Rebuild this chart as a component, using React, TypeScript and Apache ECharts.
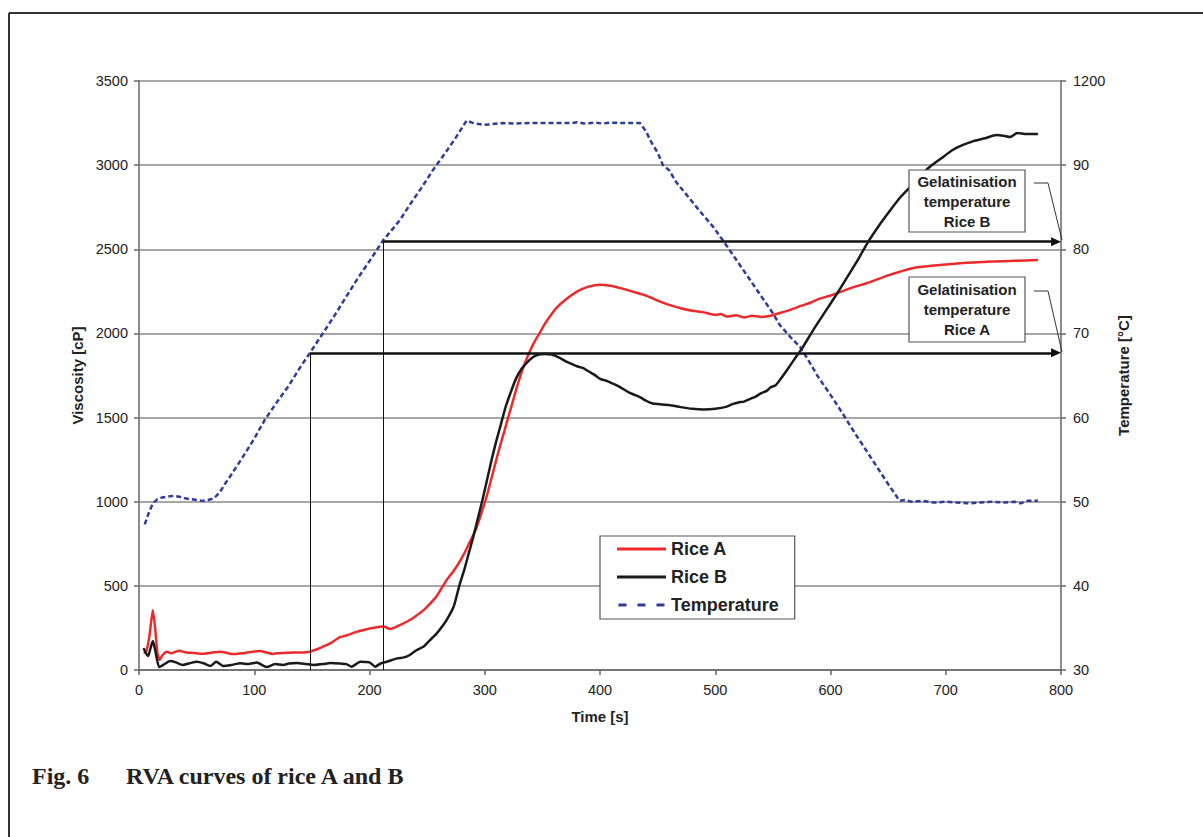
import React, { useEffect, useRef } from 'react';
import * as echarts from 'echarts';

// ---- data ----
const riceATime = [4,6,9,12,14,16,18,20,24,28,35,40,45,50,55,60,65,70,75,80,90,100,105,110,116,120,130,140,148,155,160,166,174,180,188,195,205,212,218,225,235,240,247,252,258,262,267,272,277,282,287,292,297,302,307,312,317,322,327,332,337,342,347,352,357,362,370,380,390,400,410,420,430,440,450,460,470,480,490,500,505,510,518,525,532,540,548,556,565,575,582,590,600,606,620,632,650,672,690,715,740,760,780];
const riceAVisc = [103,105,200,355,250,100,60,85,109,100,115,105,102,99,96,100,105,109,104,95,100,110,113,105,95,100,103,104,109,125,140,158,194,205,225,238,252,258,244,262,297,320,356,390,436,480,535,580,630,690,760,830,930,1040,1170,1300,1420,1540,1660,1770,1860,1935,1995,2055,2105,2150,2200,2248,2278,2290,2282,2265,2245,2225,2195,2170,2150,2135,2125,2110,2115,2100,2108,2095,2105,2098,2105,2121,2140,2165,2181,2205,2225,2240,2275,2300,2345,2389,2403,2418,2428,2432,2436];

const riceBTime = [4,6,8,10,12,14,17.5,21,27,32,38,44,50,56,62,67,73,80,88,95,102,111,118,125,130,137,145,152,160,166,175,180,184.5,192,200,205,210,215,224,230,235,241,247,252.5,258,264,268,273,276,278.5,282,286,290,294,298,302,306,310,314,318,322,327,332,337,342,347,352,358,365,370,375,380,385,390,395,400,405,410,415,420,425,430,435,440,445,450,460,470,480,490,500,510,515,520,525,530,535,540,545,548,552,556,562,568,576,585,595,606,615,624,632,642,652,660,669,677,686,696,706,715,724,734,744,750,756,762,770,780];
const riceBVisc = [130,100,83,130,172,120,18,30,53,45,30,40,49,40,24,49,24,30,40,35,44,18,35,30,38,41,35,30,35,41,38,35,20,49,45,20,40,49,69,75,89,119,140,178,215,267,310,376,450,515,590,690,790,900,1010,1130,1250,1360,1460,1560,1640,1730,1790,1830,1860,1875,1878,1875,1855,1835,1820,1805,1795,1775,1755,1730,1720,1705,1690,1670,1650,1635,1620,1600,1585,1580,1575,1562,1552,1548,1552,1565,1580,1590,1595,1610,1625,1645,1660,1680,1690,1723,1780,1840,1919,2020,2125,2240,2340,2440,2537,2640,2733,2805,2870,2930,2989,3040,3090,3120,3143,3160,3179,3175,3167,3191,3185,3185];

const tempTime = [5,8,12,16,20,25,30,35,40,45,50,55,60,65,70,75,80,90,100,109,120,130,140,148.4,160,170,180,190,200,212,220,226.5,235,245,255,265,275,284.3,290,298.6,305,315,325,340,360,376,380,386,395,402,410,420,428,434.7,440,445,450,454.6,460,466,475,485,498,510,520,530,540,550,556,565,573.5,580,589,600,610,620,630,640,650,656,660,665,670,680,690,700,710,720,730,740,750,760,765,770,780];
const tempValue = [47.3,48.5,49.8,50.3,50.5,50.6,50.7,50.6,50.4,50.3,50.2,50.1,50.2,50.4,51.1,52.2,53.2,55.3,57.5,59.7,61.9,63.8,66.0,67.7,70.1,72.2,74.4,76.6,78.6,81.1,82.4,83.5,85.3,87.3,89.4,91.3,93.3,95.3,95.0,94.8,94.85,95.0,94.95,95.0,95.0,95.0,95.1,94.95,95.05,94.95,95.05,95.0,95.0,95.0,94.0,92.6,91.5,90.0,89.4,88.0,86.5,84.8,82.7,80.4,78.4,76.4,74.4,72.4,71.0,69.6,68.4,67.0,64.9,62.7,60.6,58.4,56.3,54.2,52.1,50.9,50.1,50.2,50.0,50.1,49.9,50.0,49.9,49.8,49.9,50.0,49.9,50.0,49.8,50.1,50.1];

// gelatinisation points: [Rice A, Rice B]
const gelNames = ['Rice A', 'Rice B'];
const gelTime = [148.4, 212];
const gelTemp = [67.7, 80.9];
const arrowEnd = 795.7; // arrow head centre so that its tip touches the right axis

// axes
const timeMin = 0, timeMax = 800, timeStep = 100;
const viscMin = 0, viscMax = 3500, viscStep = 500;
const tempMin = 30, tempMax = 100, tempStep = 10;
const tempTopLabel = '1200'; // the reference prints an overstruck label at the top of the right axis

const FONT = 'Liberation Sans';

function zip(a: number[], b: number[]) {
  return a.map((t, i) => [t, b[i]]);
}

const solidIcon = 'path://M0,0H49V3H0Z';
const dashIcon = 'path://M0,0H8V3H0Z M19,0H27V3H19Z M38,0H46V3H38Z';

export default function App() {
  const ref = useRef<HTMLDivElement>(null);
  useEffect(() => {
    document.body.style.margin = '0';
    const chart = echarts.init(ref.current!, null, { renderer: 'svg' });

    const gelLines: any[] = [];
    gelTime.forEach((t, i) => {
      const thin = { color: '#111', width: 1, type: 'solid' };
      const thick = { color: '#111', width: 2.5, type: 'solid' };
      gelLines.push([
        { name: gelNames[i], coord: [t, tempMin], symbol: 'none', lineStyle: thin },
        { coord: [t, gelTemp[i]], symbol: 'none', lineStyle: thin },
      ]);
      gelLines.push([
        { name: gelNames[i], coord: [t, gelTemp[i]], symbol: 'none', lineStyle: thick },
        { coord: [arrowEnd, gelTemp[i]], symbol: 'triangle', symbolSize: [9, 10], lineStyle: thick },
      ]);
    });

    const boxFont = `bold 15px "${FONT}"`;
    const boxes = [
      { y: 170, h: 62, label: 'Gelatinisation\ntemperature\nRice B', cy: 183, tipY: 240 },
      { y: 277, h: 65, label: 'Gelatinisation\ntemperature\nRice A', cy: 291, tipY: 352 },
    ];
    const graphics: any[] = [
      { type: 'line', z: 200, shape: { x1: 9, y1: 13, x2: 1203, y2: 13 }, style: { stroke: '#333', lineWidth: 2 } },
      { type: 'line', z: 200, shape: { x1: 9, y1: 13, x2: 9, y2: 837 }, style: { stroke: '#333', lineWidth: 2 } },
      { type: 'text', z: 200, x: 32, y: 776, style: { text: 'Fig. 6', font: 'bold 24px "Liberation Serif"', fill: '#222', verticalAlign: 'middle' } },
      { type: 'text', z: 200, x: 126, y: 776, style: { text: 'RVA curves of rice A and B', font: 'bold 24px "Liberation Serif"', fill: '#222', verticalAlign: 'middle' } },
    ];
    boxes.forEach((b) => {
      graphics.push({ type: 'rect', z: 150, shape: { x: 909, y: b.y, width: 116, height: b.h }, style: { fill: '#fff', stroke: '#555', lineWidth: 1.2 } });
      graphics.push({ type: 'text', z: 151, x: 967, y: b.y + b.h / 2, style: { text: b.label, font: boxFont, fill: '#222', align: 'center', verticalAlign: 'middle', lineHeight: 20 } });
      graphics.push({ type: 'polyline', z: 150, shape: { points: [[1034, b.cy], [1048, b.cy], [1062, b.tipY]] }, style: { stroke: '#333', lineWidth: 1, fill: null } });
    });

    const axisLabel = { fontFamily: FONT, fontSize: 14.5, color: '#222' };
    const axisName = { fontFamily: FONT, fontSize: 15, fontWeight: 'bold', color: '#222' };
    const axisLine = { show: true, lineStyle: { color: '#666', width: 1.5 } };
    const axisTick = { show: true, inside: false, length: 5, lineStyle: { color: '#666', width: 1.5 } };

    chart.setOption({
      animation: false,
      backgroundColor: '#fff',
      grid: { left: 139, right: 142, top: 81, bottom: 167, containLabel: false },
      legend: {
        orient: 'vertical',
        left: 600,
        top: 536,
        itemWidth: 49,
        itemHeight: 3,
        itemGap: 8,
        padding: [3, 16, 4, 17],
        borderColor: '#555',
        borderWidth: 1.2,
        backgroundColor: '#fff',
        z: 150,
        textStyle: { fontFamily: FONT, fontWeight: 'bold', fontSize: 18, color: '#222', lineHeight: 20 },
        data: [
          { name: 'Rice A', icon: solidIcon },
          { name: 'Rice B', icon: solidIcon },
          { name: 'Temperature', icon: dashIcon },
        ],
      },
      xAxis: {
        type: 'value',
        min: timeMin,
        max: timeMax,
        interval: timeStep,
        name: 'Time [s]',
        nameLocation: 'middle',
        nameGap: 39,
        nameTextStyle: axisName,
        axisLine,
        axisTick,
        axisLabel: { ...axisLabel, margin: 12, formatter: (v: number) => String(v) },
        splitLine: { show: false },
      },
      yAxis: [
        {
          type: 'value',
          min: viscMin,
          max: viscMax,
          interval: viscStep,
          name: 'Viscosity [cP]',
          nameLocation: 'middle',
          nameRotate: 90,
          nameGap: 52,
          nameTextStyle: axisName,
          axisLine,
          axisTick,
          axisLabel: { ...axisLabel, margin: 11, formatter: (v: number) => String(v) },
          splitLine: { show: true, lineStyle: { color: '#8a8a8a', width: 1.5 } },
        },
        {
          type: 'value',
          position: 'right',
          min: tempMin,
          max: tempMax,
          interval: tempStep,
          name: 'Temperature [°C]',
          nameLocation: 'middle',
          nameRotate: 90,
          nameGap: 46,
          nameTextStyle: axisName,
          axisLine,
          axisTick,
          axisLabel: {
            ...axisLabel,
            margin: 12,
            formatter: (v: number) => (v === tempMax ? tempTopLabel : String(v)),
          },
          splitLine: { show: false },
        },
      ],
      series: [
        {
          name: 'Rice A',
          type: 'line',
          data: zip(riceATime, riceAVisc),
          symbol: 'none',
          smooth: 0.2,
          z: 4,
          lineStyle: { color: '#ec2a2c', width: 2.5 },
          itemStyle: { color: '#ec2a2c' },
        },
        {
          name: 'Rice B',
          type: 'line',
          data: zip(riceBTime, riceBVisc),
          symbol: 'none',
          smooth: 0.2,
          z: 5,
          lineStyle: { color: '#1a1a1a', width: 2.5 },
          itemStyle: { color: '#1a1a1a' },
        },
        {
          name: 'Temperature',
          type: 'line',
          yAxisIndex: 1,
          data: zip(tempTime, tempValue),
          symbol: 'none',
          z: 3,
          lineStyle: { color: '#2f3c98', width: 2.5, type: [5, 3] },
          itemStyle: { color: '#2f3c98' },
          markLine: {
            silent: true,
            animation: false,
            label: { show: false },
            emphasis: { disabled: true },
            data: gelLines,
          },
        },
      ],
      graphic: graphics,
    });
    return () => chart.dispose();
  }, []);
  return <div ref={ref} style={{ width: 1203, height: 837, background: '#fff' }} />;
}
